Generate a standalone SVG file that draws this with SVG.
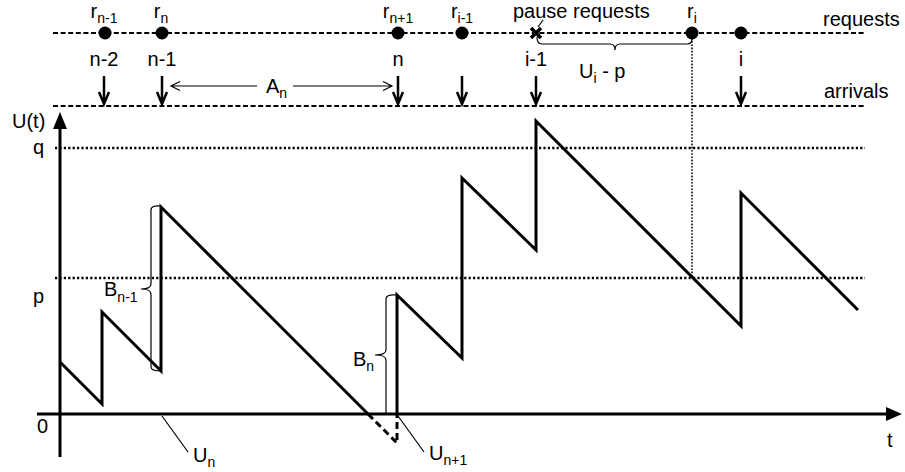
<svg xmlns="http://www.w3.org/2000/svg" width="905" height="472" viewBox="0 0 905 472">
<style>
text{font-family:"Liberation Sans",Arial,sans-serif;font-size:20px;fill:#000}
.sub{font-size:14px}
.dash{stroke:#000;stroke-width:2;stroke-dasharray:5 2.6;fill:none}
.dot{stroke:#000;stroke-width:2.4;stroke-dasharray:2.2 2.2;fill:none}
.vdot{stroke:#000;stroke-width:1.6;stroke-dasharray:1.6 1.6;fill:none}
.thin{stroke:#000;stroke-width:1.2;fill:none}
.wave{stroke:#000;stroke-width:3;fill:none;stroke-linejoin:miter}
.arr{stroke:#000;stroke-width:2.5;fill:none}
.axis{stroke:#000;stroke-width:3;fill:none}
</style>
<rect width="905" height="472" fill="#fff"/>
<g id="guides">
<line class="dash" x1="53" y1="33" x2="865" y2="33"/>
<line class="dash" x1="53" y1="106" x2="865" y2="106"/>
<line class="dot" x1="55" y1="148" x2="865" y2="148"/>
<line class="dot" x1="55" y1="278" x2="865" y2="278"/>
<line class="vdot" x1="692" y1="38" x2="692" y2="278"/>
<text x="823" y="26">requests</text>
<text x="824" y="98">arrivals</text>
<text x="33" y="154">q</text>
<text x="33" y="303">p</text>
</g>
<g id="axes">
<line class="axis" x1="60" y1="457" x2="60" y2="126"/>
<path d="M60,112 L53,129 L67,129 Z" fill="#000"/>
<line class="axis" x1="37" y1="414" x2="888" y2="414"/>
<path d="M902,414 L886,407 L886,421 Z" fill="#000"/>
<text x="12" y="128">U(t)</text>
<text x="37" y="433">0</text>
<text x="887" y="447">t</text>
</g>
<g id="requests">
<g id="req-rn-1"><circle cx="105" cy="33" r="6.5"/><text x="104" y="18" text-anchor="middle">r<tspan class="sub" dy="5">n-1</tspan></text></g>
<g id="req-rn"><circle cx="162" cy="33" r="6.5"/><text x="161" y="18" text-anchor="middle">r<tspan class="sub" dy="5">n</tspan></text></g>
<g id="req-rn+1"><circle cx="398" cy="33" r="6.5"/><text x="398" y="18" text-anchor="middle">r<tspan class="sub" dy="5">n+1</tspan></text></g>
<g id="req-ri-1"><circle cx="462" cy="33" r="6.5"/><text x="462" y="18" text-anchor="middle">r<tspan class="sub" dy="5">i-1</tspan></text></g>
<g id="req-ri"><circle cx="692" cy="33" r="6.5"/><text x="692" y="18" text-anchor="middle">r<tspan class="sub" dy="5">i</tspan></text></g>
<g id="req-i"><circle cx="741" cy="33" r="6.5"/></g>
<g id="pause"><path d="M531,28 L541,38 M541,28 L531,38" stroke="#000" stroke-width="3.5"/><line class="thin" x1="543" y1="20" x2="538" y2="27"/><text x="513" y="18">pause requests</text></g>
</g>
<g id="arrivals">
<g id="arr-n-2"><text x="104" y="66" text-anchor="middle">n-2</text><path class="arr" d="M104,76 V103 M99,92 L104,104 L109,92"/></g>
<g id="arr-n-1"><text x="162" y="66" text-anchor="middle">n-1</text><path class="arr" d="M162,76 V103 M157,92 L162,104 L167,92"/></g>
<g id="arr-n"><text x="398" y="66" text-anchor="middle">n</text><path class="arr" d="M398,76 V103 M393,92 L398,104 L403,92"/></g>
<g id="arr-ri-1"><path class="arr" d="M462,76 V103 M457,92 L462,104 L467,92"/></g>
<g id="arr-i-1"><text x="536" y="66" text-anchor="middle">i-1</text><path class="arr" d="M536,76 V103 M531,92 L536,104 L541,92"/></g>
<g id="arr-i"><text x="741" y="66" text-anchor="middle">i</text><path class="arr" d="M741,76 V103 M736,92 L741,104 L746,92"/></g>
</g>
<g id="connectors">
<path class="thin" d="M171,86 H257 M180,81.5 L171,86 L180,90.5"/>
<path class="thin" d="M293,86 H392 M383,81.5 L392,86 L383,90.5"/>
<path class="thin" d="M537,37 Q537,44 542,44 H610 Q615,44 615,50 Q615,44 620,44 H687 Q692,44 692,39"/>
<path class="thin" d="M161,206 Q151,205 151,210 V284 Q151,289 141,289 Q151,289 151,294 V367 Q151,371 161,371"/>
<path class="thin" d="M397,295 Q386,294 386,299 V350 Q386,355 375,355 Q386,355 386,360 V414"/>
<line class="thin" x1="162" y1="416" x2="188" y2="452"/>
<line class="thin" x1="398" y1="416" x2="424" y2="452"/>
</g>
<g id="waveform">
<path class="wave" d="M60,362 L102,404 L102,312 L161,371 L161,207 L368,414"/>
<path class="wave" d="M368,414 L397,443 L397,414" stroke-dasharray="7 4"/>
<path class="wave" d="M397,414 L397,295 L462,358 L462,178 L536,250 L536,121 L741,326 L741,193 L858,310"/>
</g>
<g id="labels">
<text x="266" y="93">A<tspan class="sub" dy="5">n</tspan></text>
<text x="579" y="78">U<tspan class="sub" dy="5">i</tspan><tspan dy="-5"> - p</tspan></text>
<text x="104" y="296">B<tspan class="sub" dy="6">n-1</tspan></text>
<text x="353" y="366">B<tspan class="sub" dy="5">n</tspan></text>
<text x="193" y="462">U<tspan class="sub" dy="5">n</tspan></text>
<text x="429" y="460">U<tspan class="sub" dy="5">n+1</tspan></text>
</g>
</svg>
